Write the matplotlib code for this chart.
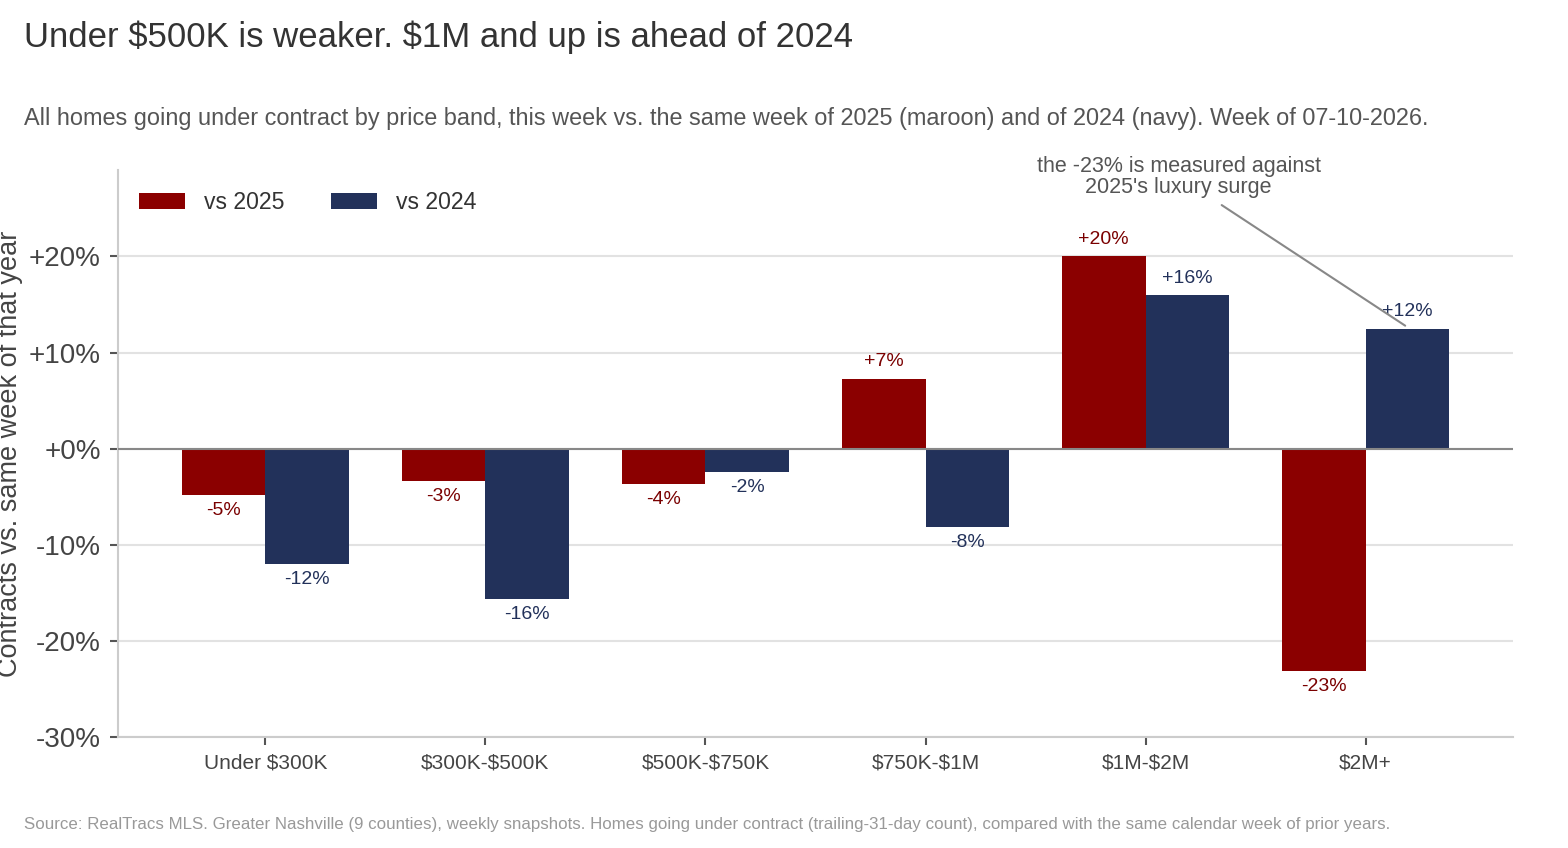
import matplotlib.pyplot as plt
import numpy as np

plt.rcParams['font.family'] = ['Liberation Sans', 'DejaVu Sans']
plt.rcParams['text.parse_math'] = False

bands = ["Under $300K", "$300K-$500K", "$500K-$750K", "$750K-$1M", "$1M-$2M", "$2M+"]
vs2025 = [-4.8, -3.4, -3.7, 7.3, 20.0, -23.1]
vs2024 = [-12.0, -15.6, -2.4, -8.2, 16.0, 12.5]
yticks = [-30, -20, -10, 0, 10, 20]
yticklabels = ["-30%", "-20%", "-10%", "+0%", "+10%", "+20%"]

maroon = "#8b0000"
navy = "#22315a"

fig = plt.figure(figsize=(15.68, 8.48), dpi=100)
ax = fig.add_axes([118 / 1568, 1 - 737 / 848, (1513 - 118) / 1568, (737 - 170) / 848])

x = np.arange(len(bands))
w = 0.38
b1 = ax.bar(x - w / 2, vs2025, w, color=maroon, label="vs 2025", zorder=3)
b2 = ax.bar(x + w / 2, vs2024, w, color=navy, label="vs 2024", zorder=3)


def fmt(v):
    return f"+{round(v):d}%" if v >= 0 else f"{round(v):d}%"


for bars, vals, col in [(b1, vs2025, "#7a0000"), (b2, vs2024, navy)]:
    for rect, v in zip(bars, vals):
        cx = rect.get_x() + rect.get_width() / 2
        if v >= 0:
            ax.annotate(fmt(v), (cx, v), xytext=(0, 6), textcoords="offset points",
                        ha="center", va="bottom", fontsize=14, color=col)
        else:
            ax.annotate(fmt(v), (cx, v), xytext=(0, -5), textcoords="offset points",
                        ha="center", va="top", fontsize=14, color=col)

ax.set_xlim(-0.67, 5.67)
ax.set_ylim(-30, 29)
ax.set_yticks(yticks)
ax.set_yticklabels(yticklabels)
ax.set_xticks(x)
ax.set_xticklabels(bands)
ax.tick_params(axis="y", labelsize=20, colors="#555555", length=6, width=1.5, labelcolor="#444444", pad=6.5)
ax.tick_params(axis="x", labelsize=15, colors="#555555", length=6, width=1.5, labelcolor="#444444", pad=6)
ax.grid(axis="y", color="#e2e2e2", linewidth=1.5, zorder=0)
ax.axhline(0, color="#888888", linewidth=1.5, zorder=4)
for s in ["top", "right"]:
    ax.spines[s].set_visible(False)
for s in ["left", "bottom"]:
    ax.spines[s].set_color("#cccccc")
    ax.spines[s].set_linewidth(1.5)

ax.set_ylabel("Contracts vs. same week of that year", fontsize=19.5, color="#444444")
ax.yaxis.set_label_coords(-0.068, 0.5)

ax.legend(loc="upper left", ncol=2, frameon=False, fontsize=16.6, handlelength=2.0,
          handleheight=0.7, handletextpad=0.83, columnspacing=2.0, labelcolor="#333333")

ax.annotate("the -23% is measured against\n2025's luxury surge", xy=(5.18, 12.8), xytext=(4.15, 28.3),
            ha="center", va="center", fontsize=15.5, color="#555555", annotation_clip=False,
            linespacing=1.0,
            arrowprops=dict(arrowstyle="-", color="#888888", lw=1.5, shrinkA=6, shrinkB=0))

fig.text(24 / 1568, 1 - 37 / 848, "Under $500K is weaker. $1M and up is ahead of 2024",
         fontsize=25, color="#333333", va="center", ha="left")
fig.text(24 / 1568, 1 - 118 / 848,
         "All homes going under contract by price band, this week vs. the same week of 2025 (maroon) and of 2024 (navy). Week of 07-10-2026.",
         fontsize=16.9, color="#555555", va="center", ha="left")
fig.text(24 / 1568, 1 - 824 / 848,
         "Source: RealTracs MLS. Greater Nashville (9 counties), weekly snapshots. Homes going under contract (trailing-31-day count), compared with the same calendar week of prior years.",
         fontsize=12.15, color="#999999", va="center", ha="left")

fig.savefig("out.png", dpi=100)
